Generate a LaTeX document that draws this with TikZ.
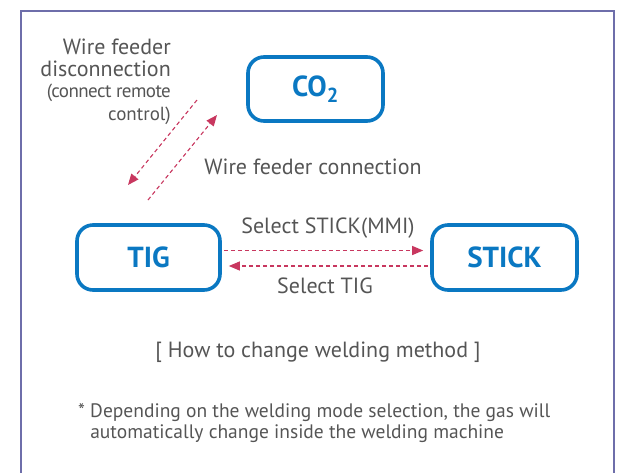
\documentclass[tikz,border=0pt]{standalone}
\usepackage{fontspec}
\setmainfont{PT Sans}
\usetikzlibrary{arrows.meta}
\definecolor{boxblue}{HTML}{0A78C2}
\definecolor{arrowred}{HTML}{C8375F}
\definecolor{txtgray}{HTML}{555555}
\definecolor{framec}{HTML}{6E6EAA}
\tikzset{
  modebox/.style={draw=boxblue, line width=3.6pt, rounded corners=16pt, text=boxblue,
    font=\bfseries\fontsize{29}{31}\selectfont, inner sep=0pt},
  flow/.style={draw=arrowred, line width=1.1pt, dash pattern=on 4pt off 3pt,
    -{Triangle[length=11pt,width=9pt]}},
  lbl/.style={text=txtgray, font=\fontsize{22}{24}\selectfont, inner sep=0pt},
}
\begin{document}
\begin{tikzpicture}[x=1pt,y=-1pt]
\useasboundingbox (0,0) rectangle (636,472);
\draw[framec, line width=1.3pt] (21,480) -- (21,11) -- (614,11) -- (614,480);
\node[modebox, minimum width=135pt, minimum height=64pt] (co2) at (315.5,89) {CO\textsubscript{2}};
\node[modebox, minimum width=143pt, minimum height=65pt] (tig) at (148.5,257.5) {TIG};
\node[modebox, minimum width=145pt, minimum height=65pt] (stick) at (504.5,257.5) {STICK};
\coordinate (d1s) at (197,100);
\coordinate (d1e) at (128,185);
\coordinate (d2s) at (148,200);
\coordinate (d2e) at (217,115);
\draw[flow] (d1s) -- (d1e);
\draw[flow] (d2s) -- (d2e);
\draw[flow] ([xshift=2pt,yshift=7pt]tig.east) -- ([xshift=-7pt,yshift=7pt]stick.west);
\draw[flow] ([xshift=-2pt,yshift=-8.5pt]stick.west) -- ([xshift=7pt,yshift=-8.5pt]tig.east);
\node[lbl, align=right, anchor=north east] (disc) at (171,39) {Wire feeder\\[-2pt]disconnection\\[-3pt]{\fontsize{19}{21}\selectfont\addfontfeatures{LetterSpace=-3}(connect remote}\\[-1pt]{\fontsize{19}{21}\selectfont control)}};
\node[lbl] (conn) at (313,167) {Wire feeder connection};
\node[lbl] (selstick) at (328,228) {Select STICK(MMI)};
\node[lbl] (seltig) at (325,286) {Select TIG};
\node[lbl] (cap) at (318,352) {[ How to change welding method ]};
\node[lbl, font=\fontsize{19.5}{21}\selectfont, align=left, anchor=north west] (note) at (78,403) {* Depending on the welding mode selection, the gas will\\\hphantom{* }automatically change inside the welding machine};
\end{tikzpicture}
\end{document}
